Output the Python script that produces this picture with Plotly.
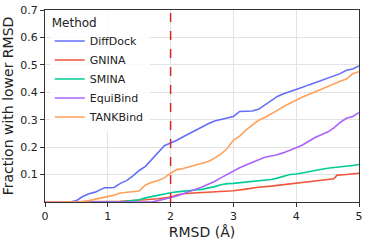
import plotly.graph_objects as go

methods = ["DiffDock", "GNINA", "SMINA", "EquiBind", "TANKBind"]
colors = ["#636EFA", "#EF553B", "#00CC96", "#AB63FA", "#FFA15A"]

diffdock_x = [0, 0.4, 0.5, 0.6, 0.7, 0.8, 0.9, 0.95, 1.0, 1.1, 1.2, 1.3, 1.4, 1.5, 1.6, 1.7, 1.8, 1.9, 2.0,
              2.1, 2.2, 2.3, 2.4, 2.5, 2.6, 2.7, 2.8, 2.9, 3.0, 3.1, 3.2, 3.3, 3.4, 3.5, 3.6, 3.7, 3.8, 3.9,
              4.0, 4.1, 4.2, 4.3, 4.4, 4.5, 4.6, 4.7, 4.8, 4.9, 5.0]
diffdock_y = [0, 0, 0.005, 0.02, 0.03, 0.036, 0.047, 0.052, 0.052, 0.053, 0.068, 0.078, 0.095, 0.115, 0.13,
              0.155, 0.178, 0.205, 0.215, 0.225, 0.238, 0.25, 0.262, 0.275, 0.285, 0.295, 0.3, 0.305, 0.312,
              0.33, 0.332, 0.332, 0.338, 0.354, 0.37, 0.385, 0.395, 0.402, 0.41, 0.418, 0.427, 0.435, 0.443,
              0.451, 0.46, 0.468, 0.48, 0.485, 0.496]

gnina_x = [0, 0.8, 1.0, 1.2, 1.4, 1.6, 1.8, 2.0, 2.1, 2.2, 2.3, 2.5, 2.7, 2.9, 3.0, 3.2, 3.4, 3.6, 3.8, 4.0,
           4.2, 4.4, 4.6, 4.65, 4.8, 5.0]
gnina_y = [0, 0, 0.002, 0.003, 0.005, 0.008, 0.012, 0.018, 0.025, 0.03, 0.032, 0.034, 0.036, 0.039, 0.041,
           0.047, 0.054, 0.058, 0.063, 0.067, 0.073, 0.079, 0.085, 0.098, 0.1, 0.105]

smina_x = [0, 1.2, 1.3, 1.4, 1.5, 1.6, 1.7, 1.8, 1.9, 2.0, 2.1, 2.2, 2.3, 2.4, 2.5, 2.6, 2.7, 2.8, 2.9, 3.0,
           3.1, 3.2, 3.3, 3.4, 3.5, 3.6, 3.7, 3.8, 3.9, 4.0, 4.1, 4.2, 4.3, 4.4, 4.5, 4.6, 4.7, 4.8, 4.9, 5.0]
smina_y = [0, 0, 0.003, 0.005, 0.008, 0.015, 0.02, 0.025, 0.03, 0.034, 0.037, 0.04, 0.042, 0.044, 0.046,
           0.05, 0.056, 0.063, 0.067, 0.068, 0.07, 0.072, 0.075, 0.078, 0.08, 0.082, 0.087, 0.094, 0.1,
           0.102, 0.105, 0.11, 0.115, 0.12, 0.123, 0.126, 0.128, 0.13, 0.133, 0.137]

equibind_x = [0, 1.7, 1.8, 1.9, 2.0, 2.1, 2.2, 2.3, 2.4, 2.5, 2.6, 2.7, 2.8, 2.9, 3.0, 3.1, 3.2, 3.3, 3.4,
              3.5, 3.6, 3.7, 3.8, 3.9, 4.0, 4.1, 4.2, 4.3, 4.4, 4.5, 4.6, 4.7, 4.8, 4.9, 5.0]
equibind_y = [0, 0, 0.005, 0.01, 0.016, 0.022, 0.03, 0.038, 0.046, 0.055, 0.065, 0.075, 0.088, 0.1, 0.115,
              0.125, 0.135, 0.145, 0.155, 0.163, 0.168, 0.172, 0.18, 0.188, 0.198, 0.208, 0.222, 0.235,
              0.245, 0.255, 0.27, 0.29, 0.305, 0.312, 0.326]

tankbind_x = [0, 0.55, 0.7, 0.8, 0.9, 1.0, 1.1, 1.2, 1.3, 1.4, 1.5, 1.6, 1.7, 1.8, 1.9, 2.0, 2.1, 2.2, 2.3,
              2.4, 2.5, 2.6, 2.7, 2.8, 2.9, 3.0, 3.1, 3.2, 3.3, 3.4, 3.5, 3.6, 3.7, 3.8, 3.9, 4.0, 4.1, 4.2,
              4.3, 4.4, 4.5, 4.6, 4.7, 4.8, 4.9, 5.0]
tankbind_y = [0, 0, 0.005, 0.01, 0.014, 0.018, 0.025, 0.033, 0.036, 0.038, 0.04, 0.062, 0.072, 0.078, 0.088,
              0.105, 0.118, 0.122, 0.128, 0.135, 0.142, 0.148, 0.16, 0.175, 0.195, 0.225, 0.24, 0.262, 0.28,
              0.298, 0.308, 0.32, 0.334, 0.348, 0.36, 0.372, 0.383, 0.392, 0.402, 0.41, 0.42, 0.432, 0.44,
              0.448, 0.468, 0.475]

xs = [diffdock_x, gnina_x, smina_x, equibind_x, tankbind_x]
ys = [diffdock_y, gnina_y, smina_y, equibind_y, tankbind_y]

x_ticks = [0, 1, 2, 3, 4, 5]
y_ticks = [0.1, 0.2, 0.3, 0.4, 0.5, 0.6, 0.7]
threshold = 2

fig = go.Figure()
for name, c, x, y in zip(methods, colors, xs, ys):
    fig.add_trace(go.Scatter(x=x, y=y, mode="lines", name=name,
                             line=dict(color=c, width=1.6)))

fig.add_vline(x=threshold, line=dict(color="#d62728", width=1.5, dash="dash"))

axis_common = dict(showline=True, linecolor="#333333", linewidth=1, mirror=True,
                   showgrid=True, gridcolor="#e3e3e3", gridwidth=1, zeroline=False,
                   ticks="outside", ticklen=4, tickcolor="#333333", automargin=False,
                   ticklabeloverflow="allow",
                   tickfont=dict(size=11, color="#222222"))

fig.update_xaxes(range=[0, 5], tickvals=x_ticks,
                 title=dict(text="RMSD (Å)", font=dict(size=14, color="#222222"), standoff=4),
                 **axis_common)
fig.update_yaxes(range=[0, 0.7], tickvals=y_ticks,
                 title=dict(text="Fraction with lower RMSD", font=dict(size=14, color="#222222"), standoff=4),
                 **axis_common)

fig.update_layout(
    width=366, height=244,
    margin=dict(l=45, r=7, t=10, b=42),
    plot_bgcolor="white", paper_bgcolor="white",
    font=dict(family="DejaVu Sans", size=12, color="#222222"),
    legend=dict(title=dict(text="Method", font=dict(size=12)), x=0.015, y=0.995,
                xanchor="left", yanchor="top",
                bgcolor="rgba(255,255,255,0.8)", font=dict(size=11), itemwidth=30,
                tracegroupgap=0),
)

fig.write_html("out.html", config={"displayModeBar": False},
               post_script="document.body.style.margin='0';document.body.style.overflow='hidden';")
